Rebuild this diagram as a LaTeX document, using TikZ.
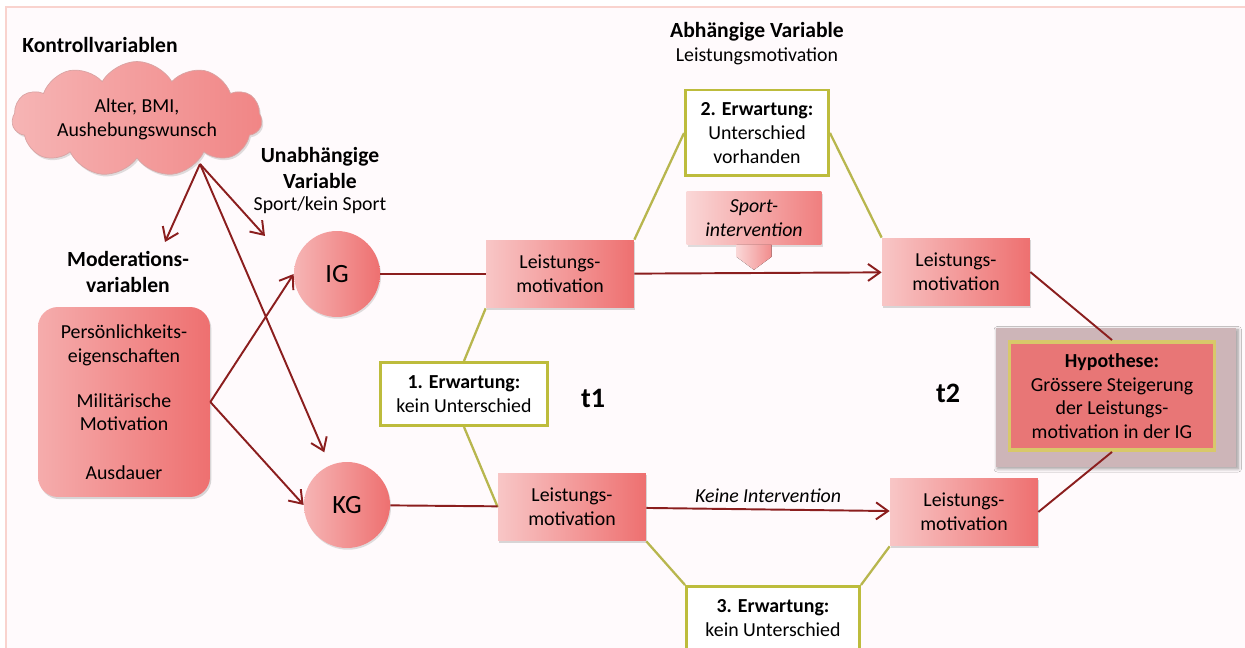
\documentclass[tikz,border=0pt]{standalone}
\usepackage{fontspec}
\setmainfont{Carlito}
\usetikzlibrary{shapes.geometric, shapes.symbols, arrows.meta, positioning, calc, shadows, shadows.blur, backgrounds}

\definecolor{boxlight}{HTML}{F8C6C6}
\definecolor{boxdark}{HTML}{EE7070}
\definecolor{linkred}{HTML}{8B1E1E}
\definecolor{expectborder}{HTML}{BDBC3C}
\definecolor{expectline}{HTML}{B8B64E}
\definecolor{hypfill}{HTML}{E87676}
\definecolor{hypborder}{HTML}{D8C86A}
\definecolor{hypframe}{HTML}{CDB5B8}
\definecolor{framepink}{HTML}{F9D3CE}
\definecolor{pageback}{HTML}{FFFAFC}
\definecolor{cloudedge}{HTML}{D9A3A3}

\newcommand{\diagfont}{\fontsize{11.3}{13.5}\selectfont}

\begin{document}
\begin{tikzpicture}[
    x=0.02cm, y=-0.02cm,
    font=\diagfont,
    heading/.style={font=\fontsize{12.3}{14.5}\selectfont\bfseries, align=center},
    measure/.style={
        rectangle, left color=boxlight, right color=boxdark,
        minimum width=2.96cm, minimum height=1.36cm, align=center,
        drop shadow={opacity=0.3, shadow xshift=0.8pt, shadow yshift=-1.2pt}
    },
    grp/.style={
        circle, left color=boxlight!80!boxdark, right color=boxdark,
        minimum size=1.72cm, font=\fontsize{15}{18}\selectfont,
        drop shadow={opacity=0.25, shadow xshift=0.6pt, shadow yshift=-1pt}
    },
    modbox/.style={
        rectangle, rounded corners=0.4cm, left color=boxlight!70!boxdark, right color=boxdark,
        minimum width=3.44cm, minimum height=3.8cm, align=center,
        drop shadow={opacity=0.3, shadow xshift=0.8pt, shadow yshift=-1.2pt}
    },
    cloudy/.style={
        cloud, cloud puffs=11, cloud puff arc=120, aspect=2.5,
        draw=cloudedge, left color=boxlight!80!boxdark, right color=boxdark!85,
        minimum width=5cm, minimum height=2.3cm, align=center, inner sep=-5pt,
        drop shadow={opacity=0.25, shadow xshift=0.8pt, shadow yshift=-1.2pt}
    },
    expect/.style={
        rectangle, draw=expectborder, line width=1.7pt, fill=white, align=center
    },
    intervention/.style={
        rectangle, left color=boxlight!70, right color=boxdark!90,
        minimum width=2.7cm, minimum height=1.06cm, align=center,
        font=\diagfont\itshape,
        drop shadow={opacity=0.25, shadow xshift=0.8pt, shadow yshift=-1.2pt}
    },
    hypo/.style={
        rectangle, fill=hypfill, draw=hypborder, line width=2.2pt,
        minimum width=4.1cm, minimum height=2.16cm, align=center
    },
    tlabel/.style={font=\fontsize{16}{19}\selectfont\bfseries},
    conn/.style={draw=linkred, line width=1.1pt},
    flow/.style={conn, -{Straight Barb[length=2.4mm, width=3.4mm]}},
    expline/.style={draw=expectline, line width=1.3pt}
]
\useasboundingbox (0,0) rectangle (1245,648);

% -------------------------
% 1. Control and moderation variables
% -------------------------
\node[heading] (kvhead) at (100,45) {Kontrollvariablen};
\node[cloudy] (kv) at (137,119) {Alter, BMI,\\Aushebungswunsch};
\coordinate (kvout) at (200,164);
\coordinate (kvmod) at (165,242);
\coordinate (kvuv) at (265,236);

\node[heading] (modhead) at (128,272) {Moderations-\\variablen};
\node[modbox] (mod) at (124,402) {Persönlichkeits-\\eigenschaften\\[12pt]Militärische\\Motivation\\[14pt]Ausdauer};

% -------------------------
% 2. Independent variable: IG / KG
% -------------------------
\node[heading] (uvhead) at (320,168) {Unabhängige\\Variable};
\node (uvsub) at (320,205) {Sport/kein Sport};
\node[grp] (IG) at (337,274) {IG};
\node[grp] (KG) at (347,505) {KG};

% -------------------------
% 3. Dependent variable at t1 and t2
% -------------------------
\node[heading] (avhead) at (757,32) {Abhängige Variable};
\node (avsub) at (757,56) {Leistungsmotivation};

\node[measure] (lmIGa) at (560,274) {Leistungs-\\motivation};
\node[measure] (lmKGa) at (572,507) {Leistungs-\\motivation};
\node[measure] (lmIGb) at (956,272) {Leistungs-\\motivation};
\node[measure] (lmKGb) at (964,512) {Leistungs-\\motivation};

\node[tlabel] (t1) at (593,398) {t1};
\node[tlabel] (t2) at (948,393) {t2};

% -------------------------
% 4. Expectations
% -------------------------
\node[expect, minimum width=3.36cm, minimum height=1.26cm] (erw1) at (464,394) {\textbf{1. Erwartung:}\\kein Unterschied};
\node[expect, minimum width=2.86cm, minimum height=1.72cm] (erw2) at (757,133) {\textbf{2. Erwartung:}\\Unterschied\\vorhanden};
\node[expect, minimum width=3.46cm, minimum height=1.26cm] (erw3) at (773,618) {\textbf{3. Erwartung:}\\kein Unterschied};

\draw[expline] (erw1.north) -- (lmIGa.south west);
\draw[expline] (erw1.south) -- (lmKGa.west);
\draw[expline] (lmIGa.north east) -- (erw2.west);
\draw[expline] (erw2.east) -- (lmIGb.north west);
\draw[expline] (lmKGa.south east) -- (erw3.north west);
\draw[expline] (erw3.north east) -- (lmKGb.south west);

% -------------------------
% 5. Intervention and hypothesis
% -------------------------
\node[intervention] (sport) at (754,218) {Sport-\\intervention};
\fill[left color=boxlight!70, right color=boxdark!80] ($(sport.south)+(-17.5,0)$) -- ++(35,0) -- ++(0,12) -- ($(sport.south)+(0,25)$) -- ($(sport.south)+(-17.5,12)$) -- cycle;

\node[hypo] (hyp) at (1112,396) {\textbf{Hypothese:}\\Grössere Steigerung\\der Leistungs-\\motivation in der IG};

\begin{scope}[on background layer]
\fill[pageback] (6,7) rectangle (1252,656);
\draw[framepink, line width=1.2pt] (6,7) rectangle (1252,656);
\fill[hypframe, blur shadow={shadow blur steps=6, shadow xshift=1pt, shadow yshift=-1pt}] ($(hyp.north west)+(-12,-12)$) rectangle ($(hyp.south east)+(20,15)$);
\end{scope}

% -------------------------
% CONNECTIONS
% -------------------------
\draw[flow] (kvout) -- (kvmod);
\draw[flow] (kvout) -- (kvuv);
\draw[flow, shorten >=8pt] (kvout) -- (KG);
\draw[flow] (mod.east) -- (IG.west);
\draw[flow] (mod.east) -- (KG.west);

\draw[conn] (IG) -- (lmIGa);
\draw[conn] (KG) -- (lmKGa);
\draw[flow] (lmIGa) -- (lmIGb);
\draw[flow] (lmKGa) -- node[above, font=\diagfont\itshape] {Keine Intervention} (lmKGb);

\draw[conn] (lmIGb.east) -- (hyp.north);
\draw[conn] (lmKGb.east) -- (hyp.south);

\end{tikzpicture}
\end{document}
